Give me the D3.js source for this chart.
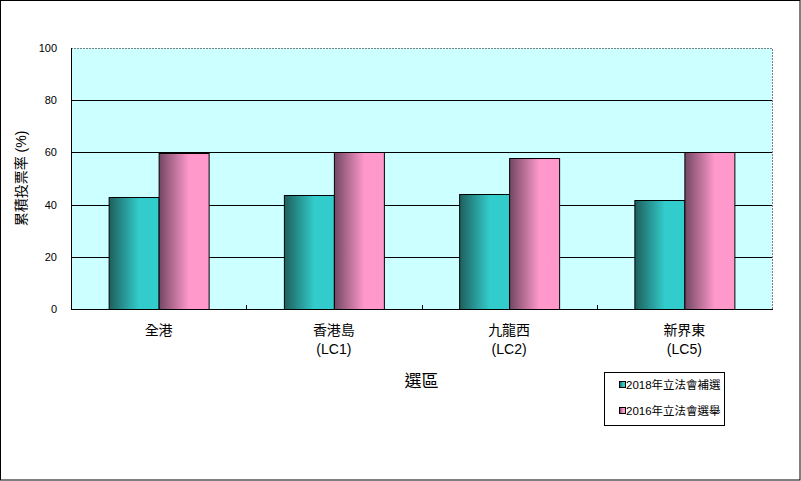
<!DOCTYPE html>
<html><head><meta charset="utf-8">
<script src="https://cdn.jsdelivr.net/npm/d3@7/dist/d3.min.js"></script>
<style>
body{margin:0;background:#fff;}
svg text{font-family:"Liberation Sans",Arial,"Noto Sans CJK TC",sans-serif;fill:#000;}
</style></head><body>
<svg id="c" width="801" height="481"></svg>
<script>
const categories = [["全港"],["香港島","(LC1)"],["九龍西","(LC2)"],["新界東","(LC5)"]];
const seriesNames = ["2018年立法會補選","2016年立法會選舉"];
const values2018 = [42.8, 43.6, 43.9, 41.6];
const values2016 = [59.8, 60.2, 57.7, 60.0];
const yTicks = [0,20,40,60,80,100];

const svg = d3.select("#c");
const W=801,H=481;
svg.append("rect").attr("x",0.5).attr("y",0.5).attr("width",W-1.5).attr("height",H-1.5).attr("fill","#fff").attr("stroke","#000");

const defs = svg.append("defs");
const grads = [["g0","#1d5f5c","#33cccc"],["g1","#734763","#ff99cc"]];
grads.forEach(([id,a,b])=>{
  const g=defs.append("linearGradient").attr("id",id).attr("x1","0").attr("x2","1").attr("y1","0").attr("y2","0");
  g.append("stop").attr("offset","0").attr("stop-color",a);
  g.append("stop").attr("offset","0.6").attr("stop-color",b);
  g.append("stop").attr("offset","1").attr("stop-color",b);
});

const L=71,R=772,T=48,B=309;
const x = d3.scaleBand().domain(d3.range(categories.length)).range([L,R]);
const y = d3.scaleLinear().domain([0,100]).range([B,T]);

svg.append("rect").attr("x",L).attr("y",T).attr("width",R-L).attr("height",B-T).attr("fill","#ccffff");
svg.append("path").attr("d",`M${L},${T+0.5}H${R+0.5}V${B}`).attr("fill","none").attr("stroke","#808080").attr("stroke-dasharray","2,1");

svg.append("g").selectAll("line").data(yTicks.filter(d=>d>0&&d<100)).join("line")
  .attr("x1",L).attr("x2",R).attr("y1",d=>Math.round(y(d))+0.5).attr("y2",d=>Math.round(y(d))+0.5)
  .attr("stroke","#000");

const yAxis = d3.axisLeft(y).tickValues(yTicks).tickSize(0).tickPadding(14);
const ya = svg.append("g").attr("transform",`translate(${L},0)`).call(yAxis);
ya.select(".domain").remove();
ya.selectAll("text").attr("font-size",11).attr("font-family","Liberation Sans,Arial,sans-serif").attr("fill","#000");

const bw = 50;
const data = [values2018, values2016];
data.forEach((vals,si)=>{
  svg.append("g").selectAll("rect").data(vals).join("rect")
    .attr("x",(d,i)=>x(i)+x.bandwidth()/2 - bw + si*bw + 0.5)
    .attr("y",d=>Math.round(y(d))+0.5)
    .attr("width",bw)
    .attr("height",d=>B-Math.round(y(d)))
    .attr("fill",`url(#g${si})`).attr("stroke","#000").attr("stroke-width",1);
});

svg.append("line").attr("x1",L+0.5).attr("x2",L+0.5).attr("y1",T).attr("y2",B).attr("stroke","#000");
svg.append("line").attr("x1",L).attr("x2",R+1).attr("y1",B+0.5).attr("y2",B+0.5).attr("stroke","#000");
svg.append("g").selectAll("line").data(d3.range(1,categories.length)).join("line")
  .attr("x1",i=>Math.round(x(i))+0.5).attr("x2",i=>Math.round(x(i))+0.5)
  .attr("y1",B-4).attr("y2",B).attr("stroke","#000");

const cl = svg.append("g").selectAll("text").data(categories).join("text")
  .attr("x",(d,i)=>x(i)+x.bandwidth()/2).attr("y",335)
  .attr("text-anchor","middle").attr("font-size",14);
cl.selectAll("tspan").data(d=>d).join("tspan")
  .attr("x",function(){return this.parentNode.getAttribute("x");})
  .attr("dy",(d,j)=>j===0?0:19).text(d=>d);

svg.append("text").attr("x",(L+R)/2).attr("y",387).attr("text-anchor","middle").attr("font-size",17).text("選區");
svg.append("text").attr("transform",`translate(26,${(T+B)/2}) rotate(-90)`).attr("text-anchor","middle").attr("font-size",14).text("累積投票率 (%)");

const lg = svg.append("g");
lg.append("rect").attr("x",604.5).attr("y",372.5).attr("width",120).attr("height",53).attr("fill","#fff").attr("stroke","#000");
seriesNames.forEach((n,i)=>{
  const yy = 385 + i*26;
  lg.append("rect").attr("x",619.5).attr("y",yy-3.5).attr("width",6).attr("height",6).attr("fill",`url(#g${i})`).attr("stroke","#000");
  lg.append("text").attr("x",626).attr("y",yy+4).attr("font-size",11.5).text(n);
});
</script>
</body></html>
